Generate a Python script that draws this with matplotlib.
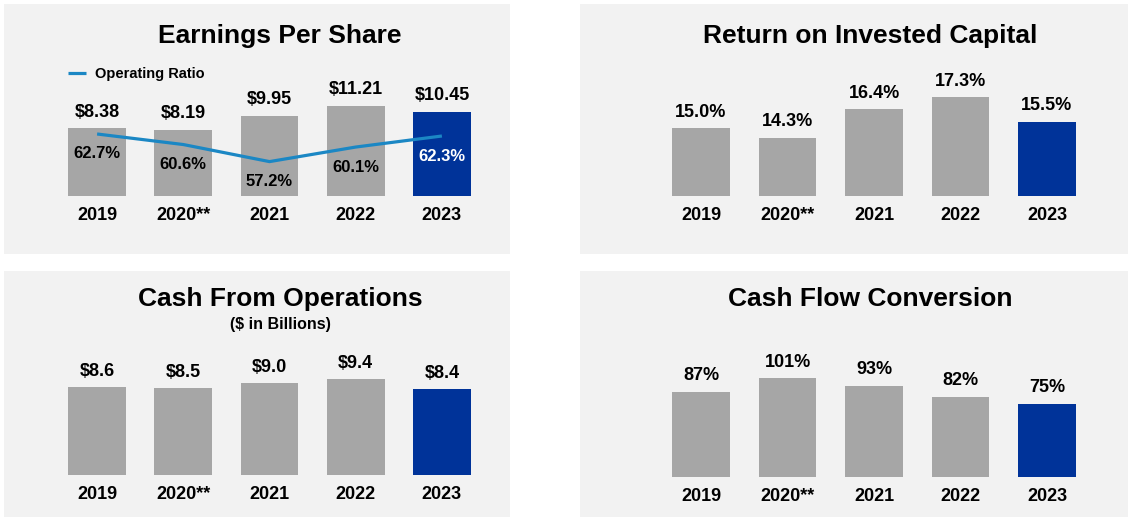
import matplotlib as mpl
mpl.use('Agg')
import matplotlib.pyplot as plt
from matplotlib.patches import Rectangle

plt.rcParams['font.family'] = ['Liberation Sans', 'DejaVu Sans']
plt.rcParams['font.weight'] = 'bold'

# data
years = ['2019', '2020**', '2021', '2022', '2023']
eps = [8.38, 8.19, 9.95, 11.21, 10.45]
eps_labels = ['$8.38', '$8.19', '$9.95', '$11.21', '$10.45']
op_ratio = [62.7, 60.6, 57.2, 60.1, 62.3]
op_labels = ['62.7%', '60.6%', '57.2%', '60.1%', '62.3%']
roic = [15.0, 14.3, 16.4, 17.3, 15.5]
roic_labels = ['15.0%', '14.3%', '16.4%', '17.3%', '15.5%']
cfo = [8.6, 8.5, 9.0, 9.4, 8.4]
cfo_labels = ['$8.6', '$8.5', '$9.0', '$9.4', '$8.4']
cfc = [87, 101, 93, 82, 75]
cfc_labels = ['87%', '101%', '93%', '82%', '75%']

W, H = 1131, 519
GRAY = '#a6a6a6'
BLUE = '#003399'
LINE = '#1b87c4'
PANEL = '#f2f2f2'
bar_colors = [GRAY, GRAY, GRAY, GRAY, BLUE]

fig = plt.figure(figsize=(W / 100, H / 100), dpi=100)
fig.patch.set_facecolor('white')


def panel(x0, y0, x1, y1):
    fig.patches.append(Rectangle((x0 / W, 1 - y1 / H), (x1 - x0) / W,
                                 (y1 - y0) / H, transform=fig.transFigure,
                                 facecolor=PANEL, edgecolor='none', zorder=-5))


def add_ax(x0, x1, ytop, ybot):
    ax = fig.add_axes([x0 / W, 1 - ybot / H, (x1 - x0) / W, (ybot - ytop) / H])
    ax.set_facecolor('none')
    for s in ax.spines.values():
        s.set_visible(False)
    ax.set_yticks([])
    ax.set_xlim(-0.5, 4.5)
    ax.set_xticks(range(len(years)), years, fontsize=13, fontweight='bold')
    ax.tick_params(axis='x', length=0, pad=8)
    return ax


def bars(ax, vals, labels, bottom=0):
    x = range(len(vals))
    ax.bar(x, [v - bottom for v in vals], bottom=bottom, width=0.67,
           color=bar_colors, zorder=2)
    for i, v in enumerate(vals):
        ax.annotate(labels[i], (i, v), xytext=(0, 16), textcoords='offset pixels',
                    ha='center', va='center', fontsize=13, fontweight='bold')


def title(x, y, s, size=19):
    fig.text(x / W, 1 - y / H, s, ha='center', va='center', fontsize=size,
             fontweight='bold')


# panels
panel(4, 4, 510, 254)
panel(580, 4, 1128, 254)
panel(4, 271, 510, 517)
panel(580, 271, 1128, 517)

# Earnings per share
ax1 = add_ax(54, 485, 50, 196)
bars(ax1, eps, eps_labels)
ax1.set_ylim(0, 18.09)
ax1b = ax1.twinx()
ax1b.set_facecolor('none')
for s in ax1b.spines.values():
    s.set_visible(False)
ax1b.set_yticks([])
ax1b.plot(range(len(op_ratio)), op_ratio, color=LINE, lw=2.3, zorder=3,
          label='Operating Ratio', solid_capstyle='butt')
ax1b.set_ylim(50.35, 79.43)
for i, v in enumerate(op_ratio):
    ax1b.annotate(op_labels[i], (i, v), xytext=(0, -20), textcoords='offset pixels',
                  ha='center', va='center', fontsize=12, fontweight='bold',
                  color='white' if i == 4 else 'black')
ax1b.legend(loc='center left', bbox_to_anchor=(68 / W, 1 - 74 / H),
            bbox_transform=fig.transFigure, frameon=False, borderpad=0,
            borderaxespad=0, handlelength=1.2, handletextpad=0.65,
            prop={'size': 10.5, 'weight': 'bold'})
title(280, 36, 'Earnings Per Share')

# Return on invested capital
ax2 = add_ax(657.75, 1090.25, 50, 196)
bars(ax2, roic, roic_labels, bottom=10)
ax2.set_ylim(10, 20.8)
title(870, 36, 'Return on Invested Capital')

# Cash from operations
ax3 = add_ax(54, 485, 340, 475)
bars(ax3, cfo, cfo_labels)
ax3.set_ylim(0, 13.24)
title(280, 299, 'Cash From Operations')
title(280, 325, '($ in Billions)', size=11.5)

# Cash flow conversion
ax4 = add_ax(657.75, 1090.25, 340, 477)
bars(ax4, cfc, cfc_labels)
ax4.set_ylim(0, 139.8)
title(870, 299, 'Cash Flow Conversion')

plt.savefig('out.png', dpi=100)
plt.close()
